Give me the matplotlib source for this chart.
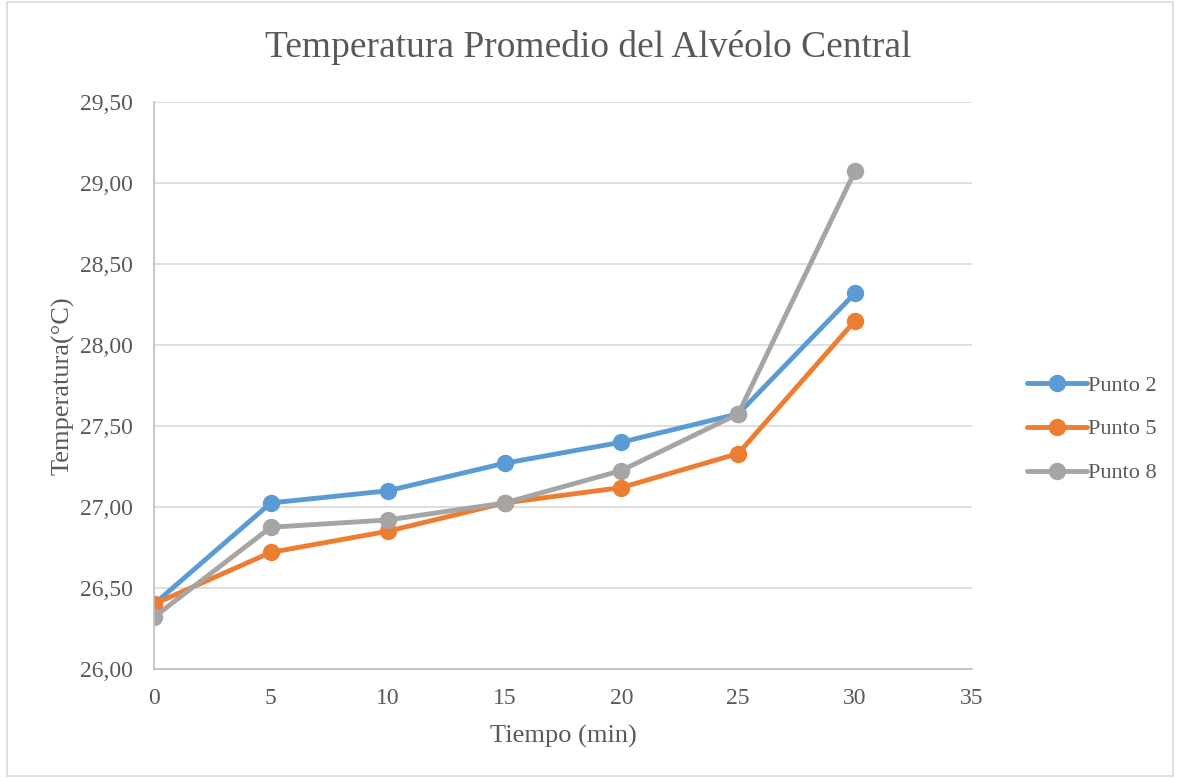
import matplotlib.pyplot as plt
from matplotlib.ticker import FuncFormatter

plt.rcParams['font.family'] = ['Liberation Serif', 'DejaVu Serif']

tiempo = [0, 5, 10, 15, 20, 25, 30]
punto2 = [26.40, 27.025, 27.10, 27.27, 27.40, 27.575, 28.32]
punto5 = [26.40, 26.72, 26.85, 27.025, 27.12, 27.33, 28.15]
punto8 = [26.32, 26.875, 26.92, 27.025, 27.225, 27.575, 29.075]

series = [("Punto 2", punto2, "#5B9BD5"),
          ("Punto 5", punto5, "#ED7D31"),
          ("Punto 8", punto8, "#A5A5A5")]

txt = "#595959"

fig = plt.figure(figsize=(11.77, 7.78), dpi=100)
ax = fig.add_axes([0.1308, 0.1401, 0.695, 0.7288])

for name, vals, col in series:
    ax.plot(tiempo, vals, color=col, lw=3.5, marker='o', ms=11.5,
            label=name, solid_capstyle='round')

ax.set_xlim(0, 35)
ax.set_ylim(26.0, 29.5)
ax.set_xticks(range(0, 36, 5))
ax.set_yticks([26.0 + 0.5 * i for i in range(8)])
ax.yaxis.set_major_formatter(FuncFormatter(lambda v, p: f"{v:.2f}".replace('.', ',')))
ax.grid(axis='y', color='#D9D9D9', lw=1.2)
ax.set_axisbelow(True)
for s in ['top', 'right']:
    ax.spines[s].set_visible(False)
for s in ['left', 'bottom']:
    ax.spines[s].set_color('#BFBFBF')
    ax.spines[s].set_linewidth(1.2)
ax.tick_params(length=0, labelsize=17, labelcolor=txt)
ax.tick_params(axis='y', pad=15)
ax.tick_params(axis='x', pad=14)

ax.set_xlabel("Tiempo (min)", fontsize=19, color=txt, labelpad=11)
ax.set_ylabel("Temperatura(°C)", fontsize=19, color=txt, labelpad=4)
fig.suptitle("Temperatura Promedio del Alvéolo Central", fontsize=27,
             color=txt, y=0.962)

leg = ax.legend(loc='center left', bbox_to_anchor=(1.043, 0.423), frameon=False,
                fontsize=16, handlelength=2.7, handletextpad=0.05,
                labelspacing=1.05)
for t in leg.get_texts():
    t.set_color(txt)

# thin frame around the chart area
fig.patches.append(plt.Rectangle((0.006, 0.003), 0.991, 0.994,
                                 transform=fig.transFigure, fill=False,
                                 edgecolor='#D9D9D9', lw=1.2))

plt.savefig('out.png', dpi=100)
